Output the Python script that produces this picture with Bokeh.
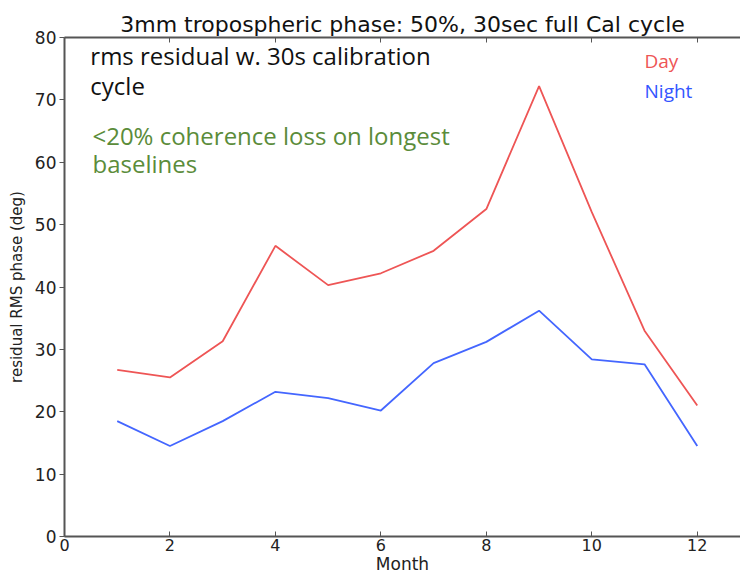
from bokeh.plotting import figure
from bokeh.models import Range1d, LinearAxis, FixedTicker, Label, Title
from bokeh.embed import file_html
from bokeh.resources import INLINE

months = [1, 2, 3, 4, 5, 6, 7, 8, 9, 10, 11, 12]
day = [26.7, 25.5, 31.3, 46.6, 40.3, 42.2, 45.8, 52.5, 72.2, 52.0, 33.0, 21.0]
night = [18.5, 14.5, 18.5, 23.2, 22.2, 20.2, 27.8, 31.2, 36.2, 28.4, 27.6, 14.5]
x_ticks = [0, 2, 4, 6, 8, 10, 12]
y_ticks = [0, 10, 20, 30, 40, 50, 60, 70, 80]

title_text = "3mm tropospheric phase: 50%, 30sec full Cal cycle"
note1 = ["rms residual w. 30s calibration", "cycle"]
note2 = ["<20% coherence loss on longest", "baselines"]

p = figure(width=740, height=579, output_backend="svg", toolbar_location=None,
           x_range=Range1d(0, 12.82), y_range=Range1d(0, 80),
           min_border_left=64, min_border_right=0, min_border_bottom=43, min_border_top=37)
p.title = None

ax_col = "#555555"
top = LinearAxis(ticker=FixedTicker(ticks=x_ticks),
                 major_label_overrides={t: "" for t in x_ticks},
                 major_tick_in=5, major_tick_out=0, minor_tick_line_color=None,
                 axis_line_color=ax_col, axis_line_width=2, major_tick_line_color=ax_col,
                 major_label_standoff=0)
p.add_layout(top, "above")
p.add_layout(Title(text=title_text, text_font="DejaVu Sans", text_font_size="22px",
                   text_font_style="normal", align="center", text_color="#111",
                   standoff=2), "above")

p.grid.visible = False
p.outline_line_color = None
p.background_fill_color = "white"

for ax in p.xaxis:
    if ax is top:
        continue
    ax.ticker = FixedTicker(ticks=x_ticks)
    ax.axis_label = "Month"
    ax.axis_label_text_font = "DejaVu Sans"
    ax.axis_label_text_font_size = "17px"
    ax.axis_label_text_font_style = "normal"
    ax.axis_label_text_color = "#222"
    ax.axis_label_standoff = 0
    ax.major_label_text_font = "DejaVu Sans"
    ax.major_label_text_font_size = "16px"
    ax.major_label_text_color = "#222"
    ax.major_label_standoff = 2
    ax.major_tick_in = 5
    ax.major_tick_out = 0
    ax.minor_tick_line_color = None
    ax.axis_line_color = ax_col
    ax.axis_line_width = 2
    ax.major_tick_line_color = ax_col

for ax in p.yaxis:
    ax.ticker = FixedTicker(ticks=y_ticks)
    ax.axis_label = "residual RMS phase (deg)"
    ax.axis_label_text_font = "DejaVu Sans"
    ax.axis_label_text_font_size = "15px"
    ax.axis_label_text_font_style = "normal"
    ax.axis_label_text_color = "#222"
    ax.axis_label_standoff = 6
    ax.major_label_text_font = "DejaVu Sans"
    ax.major_label_text_font_size = "17px"
    ax.major_label_text_color = "#222"
    ax.major_label_standoff = 3
    ax.major_tick_in = 0
    ax.major_tick_out = 5
    ax.minor_tick_line_color = None
    ax.axis_line_color = ax_col
    ax.axis_line_width = 2
    ax.major_tick_line_color = ax_col

p.line(months, day, line_color="#ee5555", line_width=1.8)
p.line(months, night, line_color="#4466ff", line_width=1.8)

p.add_layout(Label(x=0.49, y=77.1, text=note1[0], text_font="Open Sans", text_font_size="24px",
                   text_color="#111", text_baseline="middle"))
p.add_layout(Label(x=0.49, y=72.3, text=note1[1], text_font="Open Sans", text_font_size="24px",
                   text_color="#111", text_baseline="middle"))
p.add_layout(Label(x=0.53, y=64.3, text=note2[0], text_font="Open Sans", text_font_size="24px",
                   text_color="#5b8c3a", text_baseline="middle"))
p.add_layout(Label(x=0.53, y=59.8, text=note2[1], text_font="Open Sans", text_font_size="24px",
                   text_color="#5b8c3a", text_baseline="middle"))
p.add_layout(Label(x=11.0, y=76.3, text="Day", text_font="Open Sans", text_font_size="19px",
                   text_color="#ee5555", text_baseline="middle"))
p.add_layout(Label(x=11.0, y=71.5, text="Night", text_font="Open Sans", text_font_size="19px",
                   text_color="#3355ff", text_baseline="middle"))

open("out.html", "w").write(file_html(p, INLINE))
